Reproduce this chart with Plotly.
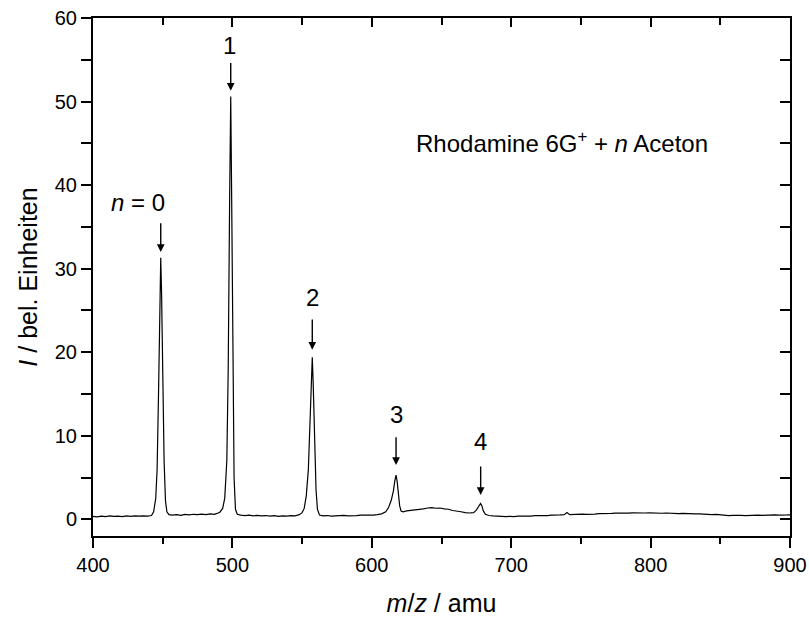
import plotly.graph_objects as go

# m/z values (amu) and intensities (bel. Einheiten)
mz = [400, 403, 406, 409, 412, 415, 418, 421, 424, 427, 430, 433, 436, 439, 442,
      443.5, 445, 446, 447, 448, 448.6, 449.2, 450, 451, 452, 453, 454.5,
      457, 460, 463, 466, 469, 472, 475, 478, 481, 484, 487, 489, 491,
      493, 494.5, 496, 497, 498, 498.8, 499.5, 500.3, 501.2, 502.2, 503.5,
      506, 509, 512, 515, 518, 521, 524, 527, 530, 533, 536, 539, 542, 545, 548, 550,
      551.5, 553, 554.5, 555.5, 556.5, 557.3, 558, 559, 560, 561, 562.5,
      565, 568, 571, 574, 577, 580, 583, 586, 589, 592, 595, 598, 601, 604, 607, 610,
      612, 614, 615.5, 616.5, 617.4, 618.2, 619, 620, 621, 622.5,
      625, 628, 631, 634, 637, 640, 643, 646, 649, 652, 655, 658, 661, 664, 667, 670, 673,
      675, 676.5, 678, 679, 680, 681.5,
      684, 687, 690, 693, 696, 699, 702, 705, 708, 711, 714, 717, 720, 723, 726, 729, 732,
      735, 738, 740, 742, 745, 748, 751, 754, 757, 760, 763, 766, 769, 772, 775, 778, 781,
      784, 787, 790, 793, 796, 799, 802, 805, 808, 811, 814, 817, 820, 823, 826, 829, 832,
      835, 838, 841, 844, 847, 850, 853, 856, 859, 862, 865, 868, 871, 874, 877, 880, 883,
      886, 889, 892, 895, 898, 900]
intensity = [0.35, 0.30, 0.38, 0.33, 0.40, 0.34, 0.38, 0.32, 0.40, 0.36, 0.42, 0.37, 0.41, 0.38, 0.45,
             0.9, 2.5, 6, 15, 27, 31.3, 27, 17, 7, 2.2, 0.9, 0.55,
             0.5, 0.55, 0.48, 0.58, 0.52, 0.6, 0.55, 0.62, 0.57, 0.65, 0.6, 0.7, 0.85,
             1.3, 2.5, 7, 18, 38, 50.6, 38, 18, 5, 1.2, 0.6,
             0.5, 0.45, 0.5, 0.42, 0.47, 0.4, 0.45, 0.38, 0.43, 0.36, 0.42, 0.38, 0.44, 0.42, 0.55, 0.8,
             1.3, 2.8, 6, 11, 16.5, 19.4, 16, 9, 3.5, 1.2, 0.5,
             0.4, 0.45, 0.38, 0.43, 0.4, 0.46, 0.42, 0.48, 0.45, 0.5, 0.47, 0.52, 0.5, 0.55, 0.65, 0.9,
             1.4, 2.3, 3.4, 4.6, 5.3, 4.5, 3.0, 1.6, 1.0, 0.9,
             1.0, 1.05, 1.1, 1.2, 1.25, 1.35, 1.4, 1.32, 1.35, 1.25, 1.2, 1.05, 1.0, 0.9, 0.8, 0.75, 0.8,
             1.1, 1.5, 1.9, 1.6, 1.0, 0.6,
             0.45, 0.4, 0.35, 0.38, 0.33, 0.36, 0.32, 0.37, 0.35, 0.4, 0.38, 0.43, 0.42, 0.47, 0.45, 0.5, 0.48,
             0.52, 0.55, 0.8, 0.55, 0.6, 0.57, 0.63, 0.6, 0.66, 0.63, 0.68, 0.66, 0.72, 0.7, 0.74, 0.71, 0.76,
             0.73, 0.77, 0.74, 0.78, 0.75, 0.77, 0.73, 0.76, 0.72, 0.75, 0.7, 0.73, 0.68, 0.71, 0.66, 0.69, 0.64,
             0.66, 0.6, 0.63, 0.57, 0.58, 0.52, 0.5, 0.44, 0.47, 0.42, 0.46, 0.44, 0.48, 0.45, 0.5, 0.47, 0.52,
             0.48, 0.53, 0.5, 0.55, 0.52, 0.54]

# peak labels: text, label position, arrow tail, arrow tip
peak_labels = ["<i>n</i> = 0", "1", "2", "3", "4"]
label_x = [432.5, 497.6, 557.8, 617.4, 678.3]
label_y = [37.9, 56.7, 26.6, 12.6, 9.3]
arrow_x = [448.6, 498.8, 557.3, 617.4, 678.1]
arrow_tip_y = [32.0, 51.3, 20.3, 6.5, 2.9]
arrow_tail_y = [35.6, 54.8, 24.1, 10.0, 6.5]

title_text = "Rhodamine 6G<sup>+</sup> + <i>n</i> Aceton"
title_x, title_y = 736.5, 45.2

x_range = [400, 900]
y_range = [-2, 60]
y_major = [0, 10, 20, 30, 40, 50, 60]
y_minor = [5, 15, 25, 35, 45, 55]

FONT = "Liberation Sans, Arial, Helvetica, sans-serif"

fig = go.Figure()
fig.add_trace(go.Scatter(x=mz, y=intensity, mode="lines",
                         line=dict(color="black", width=1.2), showlegend=False,
                         hoverinfo="skip"))
# invisible trace to activate the mirrored top/right axes
fig.add_trace(go.Scatter(x=[x_range[0]], y=[y_range[0]], xaxis="x2", yaxis="y2",
                         mode="markers", marker=dict(opacity=0), showlegend=False,
                         hoverinfo="skip"))

annotations = []
for t, lx, ly in zip(peak_labels, label_x, label_y):
    annotations.append(dict(x=lx, y=ly, xref="x", yref="y", text=t, showarrow=False,
                            font=dict(size=24, color="black", family=FONT)))
for axx, tip, tail in zip(arrow_x, arrow_tip_y, arrow_tail_y):
    annotations.append(dict(x=axx, y=tip, xref="x", yref="y", ax=axx, ay=tail,
                            axref="x", ayref="y", text="", showarrow=True,
                            arrowhead=2, arrowsize=1.1, arrowwidth=1.4, arrowcolor="black"))
annotations.append(dict(x=title_x, y=title_y, xref="x", yref="y",
                        text=title_text, showarrow=False,
                        font=dict(size=24, color="black", family=FONT)))

common_axis = dict(showgrid=False, zeroline=False, linecolor="black", linewidth=2,
                   tickcolor="black", tickwidth=1.5, automargin=False,
                   tickfont=dict(size=20, color="black", family=FONT))

fig.update_layout(
    width=809, height=617,
    margin=dict(l=93, r=19, t=18, b=81),
    paper_bgcolor="white", plot_bgcolor="white",
    font=dict(family=FONT, color="black"),
    xaxis=dict(range=x_range, dtick=100, tick0=400, ticks="outside", ticklen=10,
               showline=True, mirror=True,
               minor=dict(dtick=50, ticks="outside", ticklen=6, tickcolor="black", tickwidth=1.5),
               title=dict(text="<i>m</i>/<i>z</i> / amu", font=dict(size=25), standoff=20),
               **common_axis),
    yaxis=dict(range=y_range, tickvals=y_major, ticks="outside", ticklen=10,
               showline=True, mirror=True,
               minor=dict(tickvals=y_minor, ticks="outside", ticklen=10,
                          tickcolor="black", tickwidth=1.5),
               title=dict(text="<i>I</i> / bel. Einheiten", font=dict(size=25), standoff=10),
               **common_axis),
    xaxis2=dict(range=x_range, overlaying="x", side="top", dtick=100, tick0=400,
                ticks="inside", ticklen=9, showticklabels=False, showline=False,
                minor=dict(dtick=50, ticks="inside", ticklen=7, tickcolor="black", tickwidth=1.5),
                showgrid=False, zeroline=False, tickcolor="black", tickwidth=1.5),
    yaxis2=dict(range=y_range, overlaying="y", side="right", tickvals=y_major,
                ticks="inside", ticklen=10, showticklabels=False, showline=False,
                minor=dict(tickvals=y_minor, ticks="inside", ticklen=10,
                           tickcolor="black", tickwidth=1.5),
                showgrid=False, zeroline=False, tickcolor="black", tickwidth=1.5),
    annotations=annotations,
)

fig.write_html("out.html", config={"displayModeBar": False},
               post_script="document.body.style.margin='0px';")
